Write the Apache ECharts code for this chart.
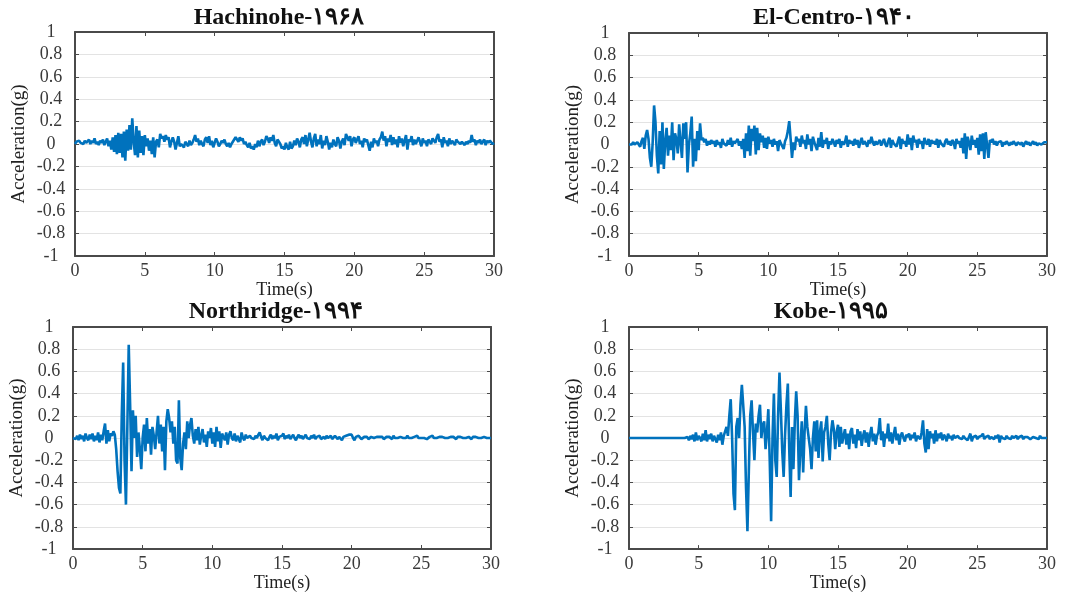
<!DOCTYPE html>
<html>
<head>
<meta charset="utf-8">
<script src="https://cdn.jsdelivr.net/npm/echarts@6/dist/echarts.min.js"></script>
<style>
html,body{margin:0;padding:0;background:#fff;}
#chart{width:1067px;height:593px;}
</style>
</head>
<body>
<div id="chart"></div>
<script>
// ---- data (sampled every 0.1 s from 0 to 30 s) ----
const timeStep = 0.1;
const titles = ['Hachinohe-۱۹۶۸', 'El-Centro-۱۹۴۰', 'Northridge-۱۹۹۴', 'Kobe-۱۹۹۵'];
const xTicks = [0, 5, 10, 15, 20, 25, 30];
const yTicks = [-1, -0.8, -0.6, -0.4, -0.2, 0, 0.2, 0.4, 0.6, 0.8, 1];

const hachinohe = [
0.00,0.02,0.01,0.03,0.01,0.02,0.00,0.03,0.01,0.02,
0.04,0.00,0.03,0.01,0.05,0.00,0.02,-0.01,0.03,0.01,
0.04,-0.01,0.02,0.05,-0.02,0.03,-0.05,0.06,-0.07,0.08,
-0.09,0.10,-0.08,0.09,-0.12,0.11,-0.15,0.13,-0.06,0.17,
-0.05,0.23,0.02,-0.10,0.16,-0.12,0.12,-0.08,0.07,-0.10,
0.08,-0.02,0.05,-0.06,0.03,-0.09,0.06,-0.12,0.02,0.04,
-0.03,0.09,0.05,0.07,0.02,0.08,0.04,0.06,-0.03,0.02,
0.06,0.02,-0.05,0.01,0.07,-0.02,0.00,0.01,-0.03,0.02,
0.00,-0.02,0.03,-0.01,0.01,0.04,0.08,0.02,0.05,-0.01,
0.03,0.00,-0.02,0.04,0.06,0.01,0.07,-0.01,0.03,-0.03,
0.01,0.05,0.02,-0.02,0.00,0.03,0.01,0.04,0.00,-0.02,
0.01,-0.03,0.00,0.02,0.04,0.06,0.05,0.02,0.06,0.03,
0.05,0.00,0.02,-0.01,-0.03,0.01,-0.04,-0.02,-0.05,0.00,
-0.03,0.03,-0.02,0.02,0.04,-0.01,0.02,0.07,0.05,0.01,
0.06,0.03,0.08,0.01,-0.02,0.04,0.05,0.00,-0.04,-0.02,
-0.05,0.01,-0.03,-0.05,0.02,-0.04,-0.02,0.03,-0.01,0.05,
0.02,-0.03,0.04,0.06,0.00,0.08,-0.02,0.04,0.10,0.02,
-0.03,0.05,0.09,-0.02,0.04,0.00,0.08,-0.04,0.03,-0.01,
0.07,0.02,-0.05,0.01,-0.03,0.04,0.00,-0.02,0.06,0.03,
-0.04,0.02,0.05,-0.01,0.09,0.06,0.03,0.07,-0.02,0.04,
0.06,0.01,0.04,0.07,0.00,0.03,-0.03,0.05,0.02,0.04,
-0.01,-0.06,0.02,-0.03,0.05,0.01,0.03,-0.02,0.04,0.06,
0.11,0.03,0.07,-0.02,0.05,0.02,0.08,-0.01,0.06,0.00,
0.04,-0.03,0.07,0.01,0.05,-0.02,0.03,0.08,-0.05,0.04,
0.02,0.07,-0.01,0.04,0.00,0.03,0.06,0.02,-0.02,0.05,
0.01,0.03,-0.02,0.04,0.02,0.00,0.05,0.03,0.01,0.06,
0.09,0.02,0.04,-0.03,0.06,0.01,0.03,-0.02,0.05,0.00,
0.03,0.01,-0.01,0.04,0.02,0.03,0.00,0.02,0.01,-0.01,
0.02,0.00,0.03,0.01,0.08,0.02,0.04,-0.01,0.03,0.01,
0.04,0.00,0.02,0.04,-0.01,0.03,0.01,0.03,0.02,0.00,
0.01];

const elCentro = [
0.00,0.01,0.00,0.02,0.00,-0.01,0.02,0.01,-0.02,0.03,
0.06,-0.04,0.08,0.13,0.05,-0.12,-0.20,0.02,0.35,0.20,
-0.10,-0.26,0.12,-0.18,0.20,-0.22,0.03,0.15,-0.10,0.08,
-0.05,0.20,-0.14,0.10,0.05,-0.08,0.18,0.02,-0.12,0.19,
0.05,0.20,-0.25,0.00,0.10,0.25,-0.20,0.05,-0.15,0.12,
-0.05,0.19,0.04,0.06,0.02,0.05,-0.01,0.03,0.00,0.04,
0.01,0.03,-0.02,0.04,0.00,0.02,-0.03,0.05,0.01,0.02,
-0.01,0.04,0.00,0.06,-0.02,0.03,0.01,0.00,0.05,-0.01,
0.03,-0.04,0.05,-0.12,0.10,-0.06,0.17,-0.10,0.14,0.03,
0.17,-0.09,0.15,-0.05,0.10,0.02,0.08,-0.03,0.06,-0.04,
0.07,0.01,0.04,-0.02,0.05,0.00,0.03,-0.06,0.04,0.01,
0.02,-0.04,0.03,0.06,0.12,0.21,0.05,-0.12,0.02,-0.05,
0.07,0.03,0.05,-0.02,0.08,0.01,0.04,-0.04,0.09,0.00,
0.05,-0.06,0.07,0.02,0.03,-0.05,0.06,-0.02,0.11,-0.03,
0.04,0.01,0.06,-0.04,0.03,0.00,0.05,0.02,-0.02,0.04,
0.01,0.05,-0.03,0.03,0.00,0.02,0.08,-0.02,0.04,0.01,
0.03,-0.01,0.05,0.00,0.04,-0.03,0.02,0.06,0.00,0.03,
0.01,-0.02,0.04,0.01,0.07,0.02,-0.01,0.03,0.00,0.02,
0.04,-0.01,0.02,0.05,0.00,-0.02,0.03,0.06,-0.03,0.04,
0.01,0.02,-0.02,0.03,0.07,-0.04,0.05,0.01,0.03,-0.02,
0.09,0.00,0.06,-0.05,0.08,0.02,0.04,-0.03,0.05,0.01,
0.03,-0.04,0.06,0.02,0.00,0.05,-0.02,0.04,0.01,0.03,
0.00,0.05,-0.03,0.04,0.01,0.02,-0.02,0.03,0.05,0.00,
0.03,-0.01,0.04,0.02,-0.04,0.05,0.01,0.03,-0.03,0.06,
-0.08,0.10,-0.13,0.07,0.02,-0.05,0.08,0.00,0.04,-0.03,
0.06,-0.09,0.09,-0.06,0.10,-0.13,0.11,0.12,-0.12,0.04,
0.02,0.05,0.00,0.03,-0.01,0.02,0.01,0.03,-0.02,0.02,
0.00,0.03,0.01,-0.01,0.02,0.00,0.03,0.01,-0.01,0.02,
0.03,0.00,0.02,-0.02,0.01,0.03,0.00,0.02,-0.01,0.01,
0.03,0.00,0.02,-0.01,0.01,0.02,0.00,0.01,0.02,0.01,
0.02];

const northridge = [
0.00,0.01,-0.01,0.02,-0.02,0.03,-0.01,0.02,-0.03,0.04,
0.00,-0.02,0.03,-0.01,0.04,-0.03,0.02,-0.02,0.05,-0.04,
0.03,-0.02,0.06,0.13,-0.05,0.07,-0.03,0.04,0.02,0.06,
0.03,-0.10,-0.30,-0.45,-0.50,0.20,0.68,-0.20,-0.60,0.10,
0.84,0.30,-0.30,0.25,0.00,0.20,-0.17,0.05,-0.10,-0.28,
0.00,0.12,-0.12,0.18,-0.05,0.08,-0.15,0.10,0.02,-0.10,
0.05,0.20,-0.05,0.12,-0.12,0.10,-0.29,0.15,0.26,0.18,
0.05,0.15,-0.05,0.10,-0.20,-0.23,0.34,-0.18,-0.29,-0.05,
0.05,-0.10,0.15,0.00,0.12,0.18,0.02,-0.05,0.08,-0.02,
0.10,-0.06,0.02,0.08,-0.04,0.03,-0.08,0.06,0.00,0.09,
-0.05,0.05,-0.08,0.10,-0.03,0.06,-0.09,0.04,0.01,-0.02,
0.05,-0.06,0.03,0.06,0.00,-0.02,0.04,-0.03,0.02,0.01,
-0.04,0.05,0.00,-0.02,0.03,0.00,-0.01,0.02,0.00,0.01,
-0.01,0.02,0.00,0.03,0.05,0.01,-0.02,0.02,0.00,0.01,
-0.02,0.01,0.03,-0.01,0.02,0.00,0.04,-0.02,0.01,0.00,
0.02,0.04,-0.01,0.02,0.00,0.03,-0.01,0.01,0.03,0.00,
-0.02,0.01,0.03,0.00,0.02,-0.01,0.01,0.03,0.00,0.01,
-0.01,0.02,0.00,0.03,-0.01,0.01,0.00,0.02,-0.01,0.00,
0.01,-0.01,0.02,0.00,0.01,0.02,-0.01,0.00,0.02,0.01,
-0.01,0.01,0.00,-0.02,0.01,0.00,0.02,0.01,0.03,0.02,
0.03,0.00,-0.02,0.01,0.00,0.02,0.01,-0.01,0.00,0.01,
0.00,0.01,-0.01,0.00,0.01,0.02,0.00,-0.01,0.01,0.00,
0.01,0.00,0.01,-0.01,0.00,0.01,0.00,0.01,0.00,-0.01,
0.02,0.00,0.01,0.00,-0.01,0.01,0.02,0.00,0.01,0.00,
0.02,0.00,0.01,0.00,-0.01,0.01,0.00,0.02,0.00,0.01,
0.00,0.01,0.00,0.01,-0.01,0.00,0.01,0.00,0.02,0.00,
0.01,0.00,-0.01,0.01,0.00,0.01,0.00,0.00,0.01,0.00,
-0.01,0.01,0.00,0.01,0.00,-0.01,0.01,0.00,0.01,0.00,
0.00,0.01,0.00,0.00,0.01,0.00,-0.01,0.01,0.00,0.01,
0.00,0.00,0.01,0.00,-0.01,0.01,0.00,0.00,0.01,0.00,
0.00];

const kobe = [
0,0,0,0,0,0,0,0,0,0,
0,0,0,0,0,0,0,0,0,0,
0,0,0,0,0,0,0,0,0,0,
0,0,0,0,0,0,0,0,0,0,
0.00,0.00,0.01,-0.02,0.02,-0.01,0.03,-0.03,0.05,-0.02,
0.02,0.00,-0.03,0.04,-0.02,0.07,-0.03,0.03,-0.01,0.04,
-0.03,0.02,0.01,-0.04,0.03,-0.02,0.05,-0.06,0.02,0.06,
0.10,0.02,0.20,0.35,0.00,-0.50,-0.65,0.10,0.18,0.00,
0.30,0.48,0.48,0.10,-0.45,-0.84,-0.30,0.20,0.34,0.05,
-0.20,0.13,0.05,0.20,0.30,0.00,0.12,0.15,-0.10,0.05,
0.26,-0.20,-0.75,0.00,0.40,-0.20,-0.35,0.20,0.59,0.25,
-0.12,-0.35,0.03,0.30,0.49,-0.10,-0.53,0.10,-0.28,0.15,
0.42,0.20,-0.38,-0.10,0.15,-0.31,0.05,0.29,0.10,0.00,
-0.10,-0.28,0.00,0.15,-0.12,0.16,-0.18,0.05,0.15,-0.21,
0.05,0.10,0.20,-0.05,-0.20,0.05,0.16,0.08,-0.10,0.05,
0.12,-0.08,0.10,-0.05,0.02,0.08,-0.06,0.04,-0.10,0.06,
0.09,-0.05,0.03,-0.09,0.08,-0.02,0.06,-0.07,0.02,0.07,
-0.04,0.05,-0.08,0.03,0.10,-0.03,0.04,-0.06,0.02,0.05,
0.18,-0.02,0.06,-0.08,0.04,0.00,0.13,-0.03,0.05,-0.05,
0.03,0.10,-0.02,0.04,-0.06,0.02,0.05,0.00,-0.03,0.03,
0.01,0.04,-0.02,0.03,0.00,0.05,-0.03,0.02,0.01,-0.01,
0.05,0.16,-0.05,-0.13,0.08,-0.10,0.06,0.00,0.04,-0.05,
0.07,-0.03,0.04,0.00,0.05,-0.02,0.03,0.01,-0.03,0.04,
0.00,0.02,-0.02,0.03,0.00,-0.01,0.02,0.00,0.01,-0.01,
0.02,0.00,0.01,-0.02,0.01,0.04,-0.03,0.01,0.00,0.02,
-0.01,0.01,0.00,0.02,0.04,-0.01,0.01,0.00,0.02,-0.01,
0.01,0.00,-0.01,0.02,0.00,0.03,-0.04,0.02,0.00,0.01,
-0.01,0.02,0.00,0.01,-0.01,0.02,0.00,0.01,0.02,-0.01,
0.01,0.00,0.02,-0.01,0.01,0.00,0.01,0.02,-0.01,0.00,
0.01,0.02,0.00,0.01,-0.01,0.02,0.00,0.01,0.00,0.01,
0.00];

const seriesValues = [hachinohe, elCentro, northridge, kobe];

// ---- layout ----
const grids = [
  {left: 75,  top: 32,  width: 419, height: 224},
  {left: 629, top: 33,  width: 418, height: 223},
  {left: 73,  top: 327, width: 418, height: 222},
  {left: 629, top: 327, width: 418, height: 223}
];
const titlePos = [
  {x: 279, y: 6}, {x: 834, y: 6}, {x: 276, y: 300}, {x: 831, y: 300}
];

const FONT = "'Liberation Serif', 'Times New Roman', 'DejaVu Serif', serif";
const AXIS_COLOR = '#4a4a4a';
const LABEL_COLOR = '#3a3a3a';

const option = {
  animation: false,
  backgroundColor: '#ffffff',
  title: [],
  grid: [],
  xAxis: [],
  yAxis: [],
  series: []
};

grids.forEach((g, i) => {
  option.grid.push(Object.assign({containLabel: false}, g));
  option.title.push({
    text: titles[i],
    left: titlePos[i].x,
    top: titlePos[i].y,
    textAlign: 'center',
    padding: 0,
    textStyle: {fontFamily: FONT, fontWeight: 'bold', fontSize: 24, color: '#111'}
  });
  const tickCommon = {show: true, inside: true, length: 4, lineStyle: {color: AXIS_COLOR, width: 1}};
  option.xAxis.push({
    type: 'value', gridIndex: i, min: xTicks[0], max: xTicks[xTicks.length - 1], interval: 5,
    position: 'bottom',
    name: 'Time(s)', nameLocation: 'middle', nameGap: 22,
    nameTextStyle: {fontFamily: FONT, fontSize: 18, color: '#222'},
    axisLine: {show: true, onZero: false, lineStyle: {color: AXIS_COLOR, width: 2}},
    axisTick: tickCommon,
    axisLabel: {fontFamily: FONT, fontSize: 18, color: LABEL_COLOR, margin: 6},
    splitLine: {show: false}
  });
  option.xAxis.push({
    type: 'value', gridIndex: i, min: xTicks[0], max: xTicks[xTicks.length - 1], interval: 5,
    position: 'top',
    axisLine: {show: true, onZero: false, lineStyle: {color: AXIS_COLOR, width: 2}},
    axisTick: tickCommon,
    axisLabel: {show: false},
    splitLine: {show: false}
  });
  option.yAxis.push({
    type: 'value', gridIndex: i, min: yTicks[0], max: yTicks[yTicks.length - 1], interval: 0.2,
    position: 'left',
    name: 'Acceleration(g)', nameLocation: 'middle', nameGap: 46, nameRotate: 90,
    nameTextStyle: {fontFamily: FONT, fontSize: 19, color: '#222'},
    axisLine: {show: true, onZero: false, lineStyle: {color: AXIS_COLOR, width: 2}},
    axisTick: tickCommon,
    axisLabel: {fontFamily: FONT, fontSize: 18, color: LABEL_COLOR, align: 'center', margin: 24},
    splitLine: {show: true, lineStyle: {color: '#e3e3e3', width: 1}}
  });
  option.yAxis.push({
    type: 'value', gridIndex: i, min: yTicks[0], max: yTicks[yTicks.length - 1], interval: 0.2,
    position: 'right',
    axisLine: {show: true, onZero: false, lineStyle: {color: AXIS_COLOR, width: 2}},
    axisTick: tickCommon,
    axisLabel: {show: false},
    splitLine: {show: false}
  });
  option.series.push({
    type: 'line',
    xAxisIndex: i * 2,
    yAxisIndex: i * 2,
    showSymbol: false,
    symbol: 'none',
    z: 1,
    lineStyle: {color: '#0072BD', width: 2.6},
    data: seriesValues[i].map((v, k) => [k * timeStep, v])
  });
});

const chart = echarts.init(document.getElementById('chart'), null, {renderer: 'canvas'});
chart.setOption(option);
</script>
</body>
</html>
